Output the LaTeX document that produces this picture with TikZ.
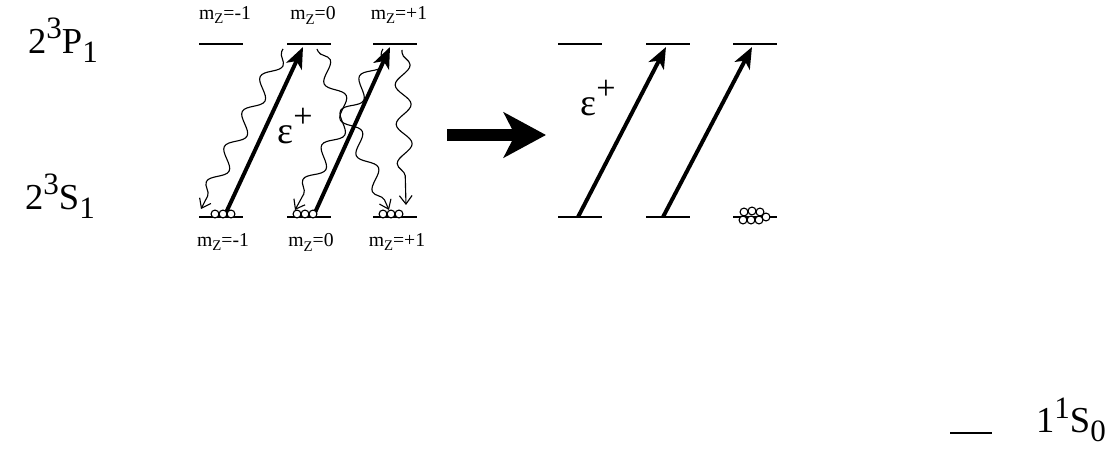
\documentclass[tikz,border=0pt]{standalone}
\usepackage{fontspec}
\setmainfont{Liberation Serif}
\usepackage{tikz}
\usetikzlibrary{positioning,arrows.meta,calc,decorations.pathmorphing}
\newcommand{\term}[4]{#1\raisebox{0.4em}{\scalebox{0.85}{#2}}#3\raisebox{-0.25em}{\scalebox{0.85}{#4}}}
\newcommand{\mz}[1]{m\raisebox{-0.25em}{\scalebox{0.75}{Z}}=#1}
\newcommand{\epl}{ε\raisebox{0.4em}{\scalebox{0.9}{+}}}

\begin{document}
\begin{tikzpicture}[x=0.025cm, y=-0.025cm,
  lvl/.style={line width=1pt},
  term/.style={font=\fontsize{26}{28}\selectfont, inner sep=0pt},
  mlab/.style={font=\fontsize{14}{16}\selectfont, inner sep=0pt},
  pol/.style={font=\fontsize{27}{29}\selectfont, inner sep=0pt},
  pump/.style={-{Stealth[length=15pt, width=12pt, inset=4pt]}, line width=2.8pt},
  decay/.style={-{Straight Barb[length=6pt, width=9pt]}, line width=0.8pt, decorate,
    decoration={snake, amplitude=5.5pt, segment length=28pt, pre length=2pt, post length=7pt}},
  atom/.style={draw, fill=white, line width=0.8pt},
  big/.style={-{Stealth[length=30pt, width=32pt, inset=8pt]}, line width=8pt}]

\useasboundingbox (0,0) rectangle (1119,451);

\node[term] (P1) at (63,40) {\term{2}{3}{P}{1}};
\node[term] (S1) at (60,196) {\term{2}{3}{S}{1}};
\node[term] (S0) at (1071,420) {\term{1}{1}{S}{0}};
\coordinate (g0) at (971,433);
\draw[lvl] ($(g0)+(-21,0)$) -- ($(g0)+(21,0)$);

\foreach \m/\x/\y in {m/221/580, z/309/668, p/395/755} {
  \coordinate (Lu\m) at (\x,44);
  \coordinate (Ll\m) at (\x,217);
  \coordinate (Ru\m) at (\y,44);
  \coordinate (Rl\m) at (\y,217);
  \foreach \c in {Lu\m, Ll\m, Ru\m, Rl\m} { \draw[lvl] ($(\c)+(-22,0)$) -- ($(\c)+(22,0)$); }
}

\foreach \m/\t in {m/-1, z/0, p/+1} {
  \node[mlab] (tu\m) at ($(Lu\m)+(4,-29)$) {\mz{\t}};
  \node[mlab] (tl\m) at ($(Ll\m)+(2,25)$) {\mz{\t}};
}

\draw[decay] ($(Luz)+(-26,5)$) -- ($(Llm)+(-20,-8)$);
\draw[decay] ($(Luz)+(8,5)$) -- ($(Llp)+(-6,-7)$);
\draw[decay] ($(Lup)+(-12,5)$) -- ($(Llz)+(-14,-7)$);
\draw[decay] ($(Lup)+(7,6)$) -- ($(Llp)+(11,-12)$);

\draw[pump] ($(Llm)+(3,0)$) -- ($(Luz)+(-6,3)$);
\draw[pump] ($(Llz)+(4,0)$) -- ($(Lup)+(-5,3)$);
\draw[pump] ($(Rlm)+(-2,0)$) -- ($(Ruz)+(-2,3)$);
\draw[pump] ($(Rlz)+(-5,0)$) -- ($(Rup)+(-3,3)$);

\node[pol] (eL) at (295,126) {\epl};
\node[pol] (eR) at (598,98) {\epl};

\foreach \dx in {-6,2,10} { \draw[atom] ($(Llm)+(\dx,-3)$) circle[radius=2.8pt]; }
\foreach \dx in {-12,-4,4} { \draw[atom] ($(Llz)+(\dx,-3)$) circle[radius=2.8pt]; }
\foreach \dx in {-12,-4,4} { \draw[atom] ($(Llp)+(\dx,-3)$) circle[radius=2.8pt]; }
\foreach \dx/\dy in {-11/-5,-3/-6,5/-5,-12/3,-4/3,4/3,11/0} { \draw[atom] ($(Rlp)+(\dx,\dy)$) circle[radius=2.8pt]; }

\coordinate (bigL) at (447,135);
\coordinate (bigR) at (546,135);
\draw[big] (bigL) -- (bigR);
\end{tikzpicture}
\end{document}
